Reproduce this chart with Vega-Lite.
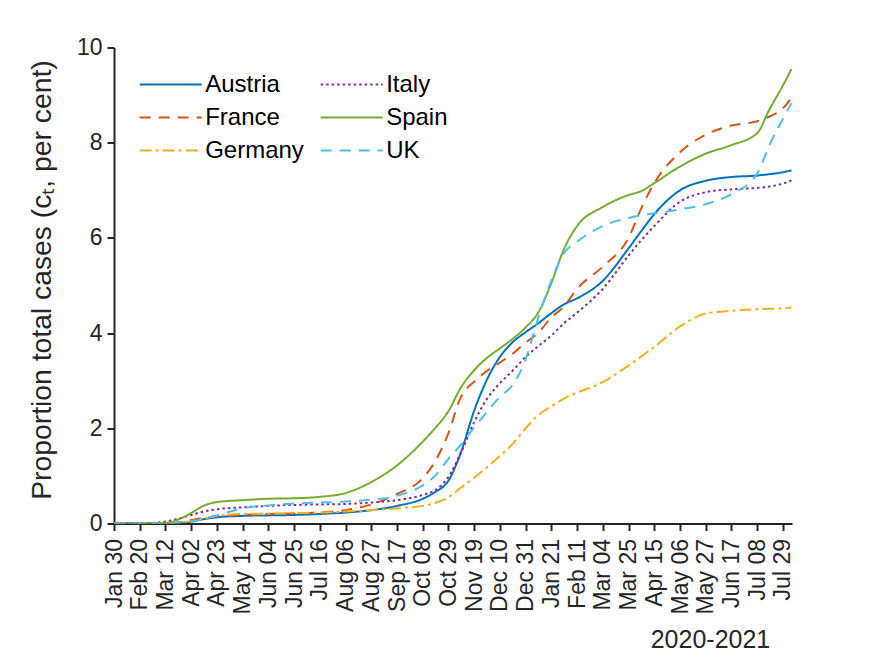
{
  "$schema": "https://vega.github.io/schema/vega-lite/v6.json",
  "width": 678,
  "height": 476,
  "autosize": "none",
  "padding": {"left": 114, "top": 47.5, "right": 83, "bottom": 132.5},
  "background": "white",
  "data": {
    "values": [
      {"country": "Austria", "date": "2020-01-30", "value": 0},
      {"country": "Austria", "date": "2020-02-20", "value": 0},
      {"country": "Austria", "date": "2020-03-12", "value": 0},
      {"country": "Austria", "date": "2020-03-22", "value": 0.01},
      {"country": "Austria", "date": "2020-04-02", "value": 0.04},
      {"country": "Austria", "date": "2020-04-12", "value": 0.09},
      {"country": "Austria", "date": "2020-04-23", "value": 0.13},
      {"country": "Austria", "date": "2020-05-14", "value": 0.16},
      {"country": "Austria", "date": "2020-06-04", "value": 0.17},
      {"country": "Austria", "date": "2020-06-25", "value": 0.18},
      {"country": "Austria", "date": "2020-07-16", "value": 0.2},
      {"country": "Austria", "date": "2020-08-06", "value": 0.23},
      {"country": "Austria", "date": "2020-08-27", "value": 0.28},
      {"country": "Austria", "date": "2020-09-17", "value": 0.37},
      {"country": "Austria", "date": "2020-10-08", "value": 0.52},
      {"country": "Austria", "date": "2020-10-18", "value": 0.66},
      {"country": "Austria", "date": "2020-10-29", "value": 0.9},
      {"country": "Austria", "date": "2020-11-08", "value": 1.48},
      {"country": "Austria", "date": "2020-11-19", "value": 2.37},
      {"country": "Austria", "date": "2020-11-29", "value": 3.0},
      {"country": "Austria", "date": "2020-12-10", "value": 3.5},
      {"country": "Austria", "date": "2020-12-20", "value": 3.8},
      {"country": "Austria", "date": "2020-12-31", "value": 4.02},
      {"country": "Austria", "date": "2021-01-10", "value": 4.2},
      {"country": "Austria", "date": "2021-01-21", "value": 4.42},
      {"country": "Austria", "date": "2021-01-31", "value": 4.6},
      {"country": "Austria", "date": "2021-02-11", "value": 4.73},
      {"country": "Austria", "date": "2021-03-04", "value": 5.1},
      {"country": "Austria", "date": "2021-03-25", "value": 5.78},
      {"country": "Austria", "date": "2021-04-04", "value": 6.13},
      {"country": "Austria", "date": "2021-04-15", "value": 6.5},
      {"country": "Austria", "date": "2021-05-06", "value": 7.0},
      {"country": "Austria", "date": "2021-05-27", "value": 7.2},
      {"country": "Austria", "date": "2021-06-17", "value": 7.28},
      {"country": "Austria", "date": "2021-07-08", "value": 7.31},
      {"country": "Austria", "date": "2021-07-18", "value": 7.34},
      {"country": "Austria", "date": "2021-07-29", "value": 7.38},
      {"country": "Austria", "date": "2021-08-05", "value": 7.42},

      {"country": "France", "date": "2020-01-30", "value": 0},
      {"country": "France", "date": "2020-02-20", "value": 0},
      {"country": "France", "date": "2020-03-12", "value": 0},
      {"country": "France", "date": "2020-03-22", "value": 0.02},
      {"country": "France", "date": "2020-04-02", "value": 0.07},
      {"country": "France", "date": "2020-04-12", "value": 0.12},
      {"country": "France", "date": "2020-04-23", "value": 0.15},
      {"country": "France", "date": "2020-05-14", "value": 0.18},
      {"country": "France", "date": "2020-06-04", "value": 0.2},
      {"country": "France", "date": "2020-06-25", "value": 0.21},
      {"country": "France", "date": "2020-07-16", "value": 0.23},
      {"country": "France", "date": "2020-08-06", "value": 0.28},
      {"country": "France", "date": "2020-08-27", "value": 0.4},
      {"country": "France", "date": "2020-09-17", "value": 0.62},
      {"country": "France", "date": "2020-10-08", "value": 0.95},
      {"country": "France", "date": "2020-10-18", "value": 1.3},
      {"country": "France", "date": "2020-10-29", "value": 1.9},
      {"country": "France", "date": "2020-11-08", "value": 2.65},
      {"country": "France", "date": "2020-11-19", "value": 2.98},
      {"country": "France", "date": "2020-11-29", "value": 3.2},
      {"country": "France", "date": "2020-12-10", "value": 3.38},
      {"country": "France", "date": "2020-12-20", "value": 3.56},
      {"country": "France", "date": "2020-12-31", "value": 3.8},
      {"country": "France", "date": "2021-01-10", "value": 4.0},
      {"country": "France", "date": "2021-01-21", "value": 4.33},
      {"country": "France", "date": "2021-01-31", "value": 4.55},
      {"country": "France", "date": "2021-02-11", "value": 4.93},
      {"country": "France", "date": "2021-03-04", "value": 5.4},
      {"country": "France", "date": "2021-03-25", "value": 6.0},
      {"country": "France", "date": "2021-04-04", "value": 6.6},
      {"country": "France", "date": "2021-04-15", "value": 7.15},
      {"country": "France", "date": "2021-05-06", "value": 7.8},
      {"country": "France", "date": "2021-05-27", "value": 8.17},
      {"country": "France", "date": "2021-06-17", "value": 8.36},
      {"country": "France", "date": "2021-07-08", "value": 8.45},
      {"country": "France", "date": "2021-07-18", "value": 8.55},
      {"country": "France", "date": "2021-07-29", "value": 8.72},
      {"country": "France", "date": "2021-08-05", "value": 8.94},

      {"country": "Germany", "date": "2020-01-30", "value": 0},
      {"country": "Germany", "date": "2020-02-20", "value": 0},
      {"country": "Germany", "date": "2020-03-12", "value": 0},
      {"country": "Germany", "date": "2020-03-22", "value": 0.02},
      {"country": "Germany", "date": "2020-04-02", "value": 0.05},
      {"country": "Germany", "date": "2020-04-12", "value": 0.1},
      {"country": "Germany", "date": "2020-04-23", "value": 0.16},
      {"country": "Germany", "date": "2020-05-14", "value": 0.2},
      {"country": "Germany", "date": "2020-06-04", "value": 0.21},
      {"country": "Germany", "date": "2020-06-25", "value": 0.22},
      {"country": "Germany", "date": "2020-07-16", "value": 0.23},
      {"country": "Germany", "date": "2020-08-06", "value": 0.25},
      {"country": "Germany", "date": "2020-08-27", "value": 0.28},
      {"country": "Germany", "date": "2020-09-17", "value": 0.32},
      {"country": "Germany", "date": "2020-10-08", "value": 0.37},
      {"country": "Germany", "date": "2020-10-18", "value": 0.43},
      {"country": "Germany", "date": "2020-10-29", "value": 0.55},
      {"country": "Germany", "date": "2020-11-08", "value": 0.75},
      {"country": "Germany", "date": "2020-11-19", "value": 0.96},
      {"country": "Germany", "date": "2020-11-29", "value": 1.17},
      {"country": "Germany", "date": "2020-12-10", "value": 1.42},
      {"country": "Germany", "date": "2020-12-20", "value": 1.66},
      {"country": "Germany", "date": "2020-12-31", "value": 2.0},
      {"country": "Germany", "date": "2021-01-10", "value": 2.27},
      {"country": "Germany", "date": "2021-01-21", "value": 2.46},
      {"country": "Germany", "date": "2021-01-31", "value": 2.62},
      {"country": "Germany", "date": "2021-02-11", "value": 2.75},
      {"country": "Germany", "date": "2021-03-04", "value": 2.97},
      {"country": "Germany", "date": "2021-03-25", "value": 3.32},
      {"country": "Germany", "date": "2021-04-04", "value": 3.5},
      {"country": "Germany", "date": "2021-04-15", "value": 3.71},
      {"country": "Germany", "date": "2021-05-06", "value": 4.14},
      {"country": "Germany", "date": "2021-05-27", "value": 4.41},
      {"country": "Germany", "date": "2021-06-17", "value": 4.47},
      {"country": "Germany", "date": "2021-07-08", "value": 4.5},
      {"country": "Germany", "date": "2021-07-18", "value": 4.51},
      {"country": "Germany", "date": "2021-07-29", "value": 4.52},
      {"country": "Germany", "date": "2021-08-05", "value": 4.54},

      {"country": "Italy", "date": "2020-01-30", "value": 0},
      {"country": "Italy", "date": "2020-02-20", "value": 0},
      {"country": "Italy", "date": "2020-03-12", "value": 0.04},
      {"country": "Italy", "date": "2020-03-22", "value": 0.1},
      {"country": "Italy", "date": "2020-04-02", "value": 0.18},
      {"country": "Italy", "date": "2020-04-12", "value": 0.25},
      {"country": "Italy", "date": "2020-04-23", "value": 0.3},
      {"country": "Italy", "date": "2020-05-14", "value": 0.34},
      {"country": "Italy", "date": "2020-06-04", "value": 0.37},
      {"country": "Italy", "date": "2020-06-25", "value": 0.39},
      {"country": "Italy", "date": "2020-07-16", "value": 0.4},
      {"country": "Italy", "date": "2020-08-06", "value": 0.41},
      {"country": "Italy", "date": "2020-08-27", "value": 0.44},
      {"country": "Italy", "date": "2020-09-17", "value": 0.49},
      {"country": "Italy", "date": "2020-10-08", "value": 0.6},
      {"country": "Italy", "date": "2020-10-18", "value": 0.7},
      {"country": "Italy", "date": "2020-10-29", "value": 0.98},
      {"country": "Italy", "date": "2020-11-08", "value": 1.48},
      {"country": "Italy", "date": "2020-11-19", "value": 2.13},
      {"country": "Italy", "date": "2020-11-29", "value": 2.6},
      {"country": "Italy", "date": "2020-12-10", "value": 2.95},
      {"country": "Italy", "date": "2020-12-20", "value": 3.2},
      {"country": "Italy", "date": "2020-12-31", "value": 3.5},
      {"country": "Italy", "date": "2021-01-10", "value": 3.72},
      {"country": "Italy", "date": "2021-01-21", "value": 3.95},
      {"country": "Italy", "date": "2021-01-31", "value": 4.2},
      {"country": "Italy", "date": "2021-02-11", "value": 4.43},
      {"country": "Italy", "date": "2021-03-04", "value": 4.93},
      {"country": "Italy", "date": "2021-03-25", "value": 5.63},
      {"country": "Italy", "date": "2021-04-04", "value": 5.94},
      {"country": "Italy", "date": "2021-04-15", "value": 6.25},
      {"country": "Italy", "date": "2021-05-06", "value": 6.76},
      {"country": "Italy", "date": "2021-05-27", "value": 6.96},
      {"country": "Italy", "date": "2021-06-17", "value": 7.02},
      {"country": "Italy", "date": "2021-07-08", "value": 7.05},
      {"country": "Italy", "date": "2021-07-18", "value": 7.08},
      {"country": "Italy", "date": "2021-07-29", "value": 7.14},
      {"country": "Italy", "date": "2021-08-05", "value": 7.21},

      {"country": "Spain", "date": "2020-01-30", "value": 0},
      {"country": "Spain", "date": "2020-02-20", "value": 0},
      {"country": "Spain", "date": "2020-03-12", "value": 0.01},
      {"country": "Spain", "date": "2020-03-22", "value": 0.08},
      {"country": "Spain", "date": "2020-04-02", "value": 0.22},
      {"country": "Spain", "date": "2020-04-12", "value": 0.37},
      {"country": "Spain", "date": "2020-04-23", "value": 0.45},
      {"country": "Spain", "date": "2020-05-14", "value": 0.49},
      {"country": "Spain", "date": "2020-06-04", "value": 0.52},
      {"country": "Spain", "date": "2020-06-25", "value": 0.53},
      {"country": "Spain", "date": "2020-07-16", "value": 0.56},
      {"country": "Spain", "date": "2020-08-06", "value": 0.64},
      {"country": "Spain", "date": "2020-08-27", "value": 0.87},
      {"country": "Spain", "date": "2020-09-17", "value": 1.22},
      {"country": "Spain", "date": "2020-10-08", "value": 1.72},
      {"country": "Spain", "date": "2020-10-18", "value": 2.0},
      {"country": "Spain", "date": "2020-10-29", "value": 2.36},
      {"country": "Spain", "date": "2020-11-08", "value": 2.85},
      {"country": "Spain", "date": "2020-11-19", "value": 3.22},
      {"country": "Spain", "date": "2020-11-29", "value": 3.47},
      {"country": "Spain", "date": "2020-12-10", "value": 3.68},
      {"country": "Spain", "date": "2020-12-20", "value": 3.87},
      {"country": "Spain", "date": "2020-12-31", "value": 4.12},
      {"country": "Spain", "date": "2021-01-10", "value": 4.42},
      {"country": "Spain", "date": "2021-01-21", "value": 5.05},
      {"country": "Spain", "date": "2021-01-31", "value": 5.75},
      {"country": "Spain", "date": "2021-02-11", "value": 6.25},
      {"country": "Spain", "date": "2021-03-04", "value": 6.65},
      {"country": "Spain", "date": "2021-03-25", "value": 6.9},
      {"country": "Spain", "date": "2021-04-04", "value": 6.98},
      {"country": "Spain", "date": "2021-04-15", "value": 7.15},
      {"country": "Spain", "date": "2021-05-06", "value": 7.5},
      {"country": "Spain", "date": "2021-05-27", "value": 7.77},
      {"country": "Spain", "date": "2021-06-17", "value": 7.95},
      {"country": "Spain", "date": "2021-07-08", "value": 8.2},
      {"country": "Spain", "date": "2021-07-18", "value": 8.7},
      {"country": "Spain", "date": "2021-07-29", "value": 9.2},
      {"country": "Spain", "date": "2021-08-05", "value": 9.55},

      {"country": "UK", "date": "2020-01-30", "value": 0},
      {"country": "UK", "date": "2020-02-20", "value": 0},
      {"country": "UK", "date": "2020-03-12", "value": 0},
      {"country": "UK", "date": "2020-03-22", "value": 0.02},
      {"country": "UK", "date": "2020-04-02", "value": 0.04},
      {"country": "UK", "date": "2020-04-12", "value": 0.1},
      {"country": "UK", "date": "2020-04-23", "value": 0.17},
      {"country": "UK", "date": "2020-05-14", "value": 0.32},
      {"country": "UK", "date": "2020-06-04", "value": 0.38},
      {"country": "UK", "date": "2020-06-25", "value": 0.42},
      {"country": "UK", "date": "2020-07-16", "value": 0.44},
      {"country": "UK", "date": "2020-08-06", "value": 0.46},
      {"country": "UK", "date": "2020-08-27", "value": 0.5},
      {"country": "UK", "date": "2020-09-17", "value": 0.58},
      {"country": "UK", "date": "2020-10-08", "value": 0.8},
      {"country": "UK", "date": "2020-10-18", "value": 1.0},
      {"country": "UK", "date": "2020-10-29", "value": 1.36},
      {"country": "UK", "date": "2020-11-08", "value": 1.65},
      {"country": "UK", "date": "2020-11-19", "value": 2.02},
      {"country": "UK", "date": "2020-11-29", "value": 2.33},
      {"country": "UK", "date": "2020-12-10", "value": 2.66},
      {"country": "UK", "date": "2020-12-20", "value": 2.9},
      {"country": "UK", "date": "2020-12-31", "value": 3.45},
      {"country": "UK", "date": "2021-01-10", "value": 4.3},
      {"country": "UK", "date": "2021-01-21", "value": 5.1},
      {"country": "UK", "date": "2021-01-31", "value": 5.67},
      {"country": "UK", "date": "2021-02-11", "value": 5.92},
      {"country": "UK", "date": "2021-03-04", "value": 6.25},
      {"country": "UK", "date": "2021-03-25", "value": 6.42},
      {"country": "UK", "date": "2021-04-04", "value": 6.47},
      {"country": "UK", "date": "2021-04-15", "value": 6.52},
      {"country": "UK", "date": "2021-05-06", "value": 6.6},
      {"country": "UK", "date": "2021-05-27", "value": 6.71},
      {"country": "UK", "date": "2021-06-17", "value": 6.92},
      {"country": "UK", "date": "2021-07-08", "value": 7.35},
      {"country": "UK", "date": "2021-07-18", "value": 7.95},
      {"country": "UK", "date": "2021-07-29", "value": 8.5},
      {"country": "UK", "date": "2021-08-05", "value": 8.83}
    ]
  },
  "mark": {"type": "line", "interpolate": "monotone", "strokeWidth": 2, "clip": true},
  "encoding": {
    "x": {
      "field": "date",
      "type": "temporal",
      "scale": {
        "type": "utc",
        "domain": [
          {"year": 2020, "month": 1, "date": 30, "utc": true},
          {"year": 2021, "month": 8, "date": 5, "hours": 10, "utc": true}
        ]
      },
      "axis": {
        "values": [
          {"year": 2020, "month": 1, "date": 30, "utc": true},
          {"year": 2020, "month": 2, "date": 20, "utc": true},
          {"year": 2020, "month": 3, "date": 12, "utc": true},
          {"year": 2020, "month": 4, "date": 2, "utc": true},
          {"year": 2020, "month": 4, "date": 23, "utc": true},
          {"year": 2020, "month": 5, "date": 14, "utc": true},
          {"year": 2020, "month": 6, "date": 4, "utc": true},
          {"year": 2020, "month": 6, "date": 25, "utc": true},
          {"year": 2020, "month": 7, "date": 16, "utc": true},
          {"year": 2020, "month": 8, "date": 6, "utc": true},
          {"year": 2020, "month": 8, "date": 27, "utc": true},
          {"year": 2020, "month": 9, "date": 17, "utc": true},
          {"year": 2020, "month": 10, "date": 8, "utc": true},
          {"year": 2020, "month": 10, "date": 29, "utc": true},
          {"year": 2020, "month": 11, "date": 19, "utc": true},
          {"year": 2020, "month": 12, "date": 10, "utc": true},
          {"year": 2020, "month": 12, "date": 31, "utc": true},
          {"year": 2021, "month": 1, "date": 21, "utc": true},
          {"year": 2021, "month": 2, "date": 11, "utc": true},
          {"year": 2021, "month": 3, "date": 4, "utc": true},
          {"year": 2021, "month": 3, "date": 25, "utc": true},
          {"year": 2021, "month": 4, "date": 15, "utc": true},
          {"year": 2021, "month": 5, "date": 6, "utc": true},
          {"year": 2021, "month": 5, "date": 27, "utc": true},
          {"year": 2021, "month": 6, "date": 17, "utc": true},
          {"year": 2021, "month": 7, "date": 8, "utc": true},
          {"year": 2021, "month": 7, "date": 29, "utc": true}
        ],
        "labelExpr": "utcFormat(datum.value, '%b %d')",
        "labelAngle": -90,
        "labelFontSize": 23,
        "labelPadding": 8,
        "labelOverlap": false,
        "labelFlush": false,
        "labelBound": false,
        "title": "2020-2021",
        "titleFontSize": 25,
        "titleX": 596,
        "titleY": 124,
        "titleAlign": "center",
        "titleBaseline": "alphabetic",
        "titleAngle": 0
      }
    },
    "y": {
      "field": "value",
      "type": "quantitative",
      "scale": {"domain": [0, 10], "nice": false, "zero": true},
      "axis": {
        "values": [0, 2, 4, 6, 8, 10],
        "format": "d",
        "labelFontSize": 23,
        "labelPadding": 5,
        "title": "Proportion total cases (cₜ, per cent)",
        "titleFontSize": 28.3,
        "titleX": -64,
        "titleY": 232,
        "titleAlign": "center",
        "titleBaseline": "alphabetic",
        "titleAngle": -90
      }
    },
    "color": {
      "field": "country",
      "type": "nominal",
      "scale": {
        "domain": ["Austria", "France", "Germany", "Italy", "Spain", "UK"],
        "range": ["#0072BD", "#D95319", "#EDB120", "#7E2F8E", "#77AC30", "#4DBEEE"]
      },
      "legend": {
        "title": null,
        "orient": "none",
        "legendX": 24,
        "legendY": 25,
        "columns": 2,
        "padding": 0,
        "symbolType": "M-3,0H3",
        "symbolSize": 427,
        "symbolOffset": 20.67,
        "labelOffset": 22.5,
        "symbolStrokeWidth": 2,
        "labelFontSize": 24,
        "labelColor": "black",
        "columnPadding": 12,
        "rowPadding": 9
      }
    },
    "strokeDash": {
      "field": "country",
      "type": "nominal",
      "scale": {
        "domain": ["Austria", "France", "Germany", "Italy", "Spain", "UK"],
        "range": [[1, 0], [11, 8], [12, 4, 3, 4], [2.5, 3], [1, 0], [11, 8]]
      },
      "legend": {
        "title": null,
        "orient": "none",
        "legendX": 24,
        "legendY": 25,
        "columns": 2,
        "padding": 0,
        "symbolType": "M-3,0H3",
        "symbolSize": 427,
        "symbolOffset": 20.67,
        "labelOffset": 22.5,
        "symbolStrokeWidth": 2,
        "labelFontSize": 24,
        "labelColor": "black",
        "columnPadding": 12,
        "rowPadding": 9
      }
    }
  },
  "config": {
    "font": "Liberation Sans",
    "view": {"stroke": null},
    "axis": {
      "grid": false,
      "domainColor": "#262626",
      "domainWidth": 2,
      "tickColor": "#262626",
      "tickWidth": 2,
      "tickSize": 7,
      "labelColor": "#262626",
      "labelFont": "Liberation Sans",
      "titleColor": "#262626",
      "titleFont": "Liberation Sans",
      "titleFontWeight": "normal"
    },
    "legend": {"labelFont": "Liberation Sans"}
  }
}
